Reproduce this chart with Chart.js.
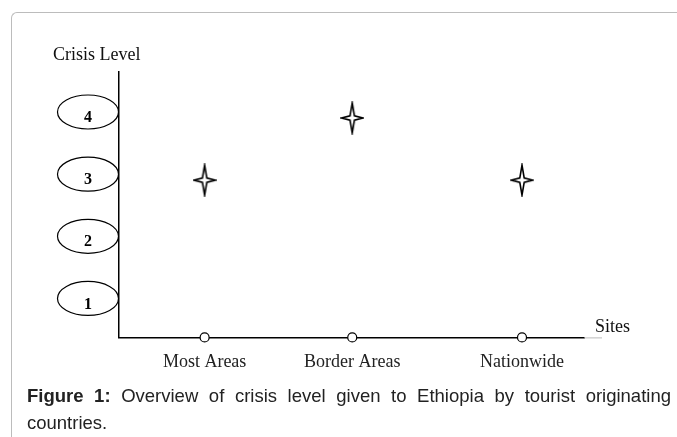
<!DOCTYPE html>
<html lang="en">
<head>
    <meta charset="UTF-8">
    <title>Crisis level overview</title>
    <style>
        body {
            margin: 0;
            padding: 0;
            background: #fff;
            width: 677px;
            height: 437px;
            overflow: hidden;
            position: relative;
        }
        .frame {
            position: absolute;
            left: 11px;
            top: 12px;
            width: 700px;
            height: 460px;
            border-left: 1.5px solid #bcbcbc;
            border-top: 1.5px solid #bcbcbc;
            border-top-left-radius: 6px;
        }
        .chart-box {
            position: absolute;
            left: 0;
            top: 0;
            width: 677px;
            height: 392px;
        }
        .caption {
            position: absolute;
            left: 27px;
            top: 382px;
            width: 644px;
            font-family: 'Liberation Sans', Arial, sans-serif;
            font-size: 18.5px;
            line-height: 27px;
            color: #222;
            text-align: justify;
            text-align-last: left;
        }
    </style>
</head>
<body>

    <div class="frame"></div>
    <div class="chart-box">
        <canvas id="chart1"></canvas>
    </div>
    <div class="caption"><b>Figure 1:</b> Overview of crisis level given to Ethiopia by tourist originating countries.</div>

    <script src="https://cdn.jsdelivr.net/npm/chart.js"></script>
    <script>
        // data
        const sites = ["Most Areas", "Border Areas", "Nationwide"];
        const sitePos = [1, 2, 3.15];
        const crisisLevels = [3, 4, 3];
        const levelTicks = [1, 2, 3, 4];

        const xMin = 0.42, xMax = 3.57;
        const yMin = 0.47, yMax = 4.74;

        // four point star marker
        function makeStar() {
            let c = document.createElement("canvas");
            c.width = 24;
            c.height = 34;
            let g = c.getContext("2d");
            let cx = 12, cy = 17;
            g.beginPath();
            g.moveTo(cx, cy - 15);
            g.lineTo(cx + 2.2, cy - 2.2);
            g.lineTo(cx + 10.5, cy);
            g.lineTo(cx + 2.2, cy + 2.2);
            g.lineTo(cx, cy + 15);
            g.lineTo(cx - 2.2, cy + 2.2);
            g.lineTo(cx - 10.5, cy);
            g.lineTo(cx - 2.2, cy - 2.2);
            g.closePath();
            g.fillStyle = "#fff";
            g.fill();
            g.lineWidth = 1.6;
            g.strokeStyle = "#000";
            g.stroke();
            return c;
        }

        // ellipses round the level numbers, axis titles
        const decorPlugin = {
            id: "decor",
            afterDraw(chart) {
                let ctx = chart.ctx;
                let ys = chart.scales.y;
                let xs = chart.scales.x;
                let left = chart.chartArea.left;
                ctx.save();
                levelTicks.forEach(function (lv) {
                    let y = ys.getPixelForValue(lv);
                    ctx.beginPath();
                    ctx.ellipse(left - 31, y - 6, 30.5, 17, 0, 0, Math.PI * 2);
                    ctx.lineWidth = 1.2;
                    ctx.strokeStyle = "#000";
                    ctx.stroke();
                    ctx.fillStyle = "#000";
                    ctx.font = "bold 16px 'Liberation Serif'";
                    ctx.textAlign = "center";
                    ctx.textBaseline = "middle";
                    ctx.fillText(String(lv), left - 31, y);
                });
                ctx.font = "18px 'Liberation Serif'";
                ctx.textAlign = "left";
                ctx.textBaseline = "middle";
                ctx.fillStyle = "#111";
                ctx.fillText("Crisis Level", left - 66, chart.chartArea.top - 17);
                ctx.fillText("Sites", xs.right + 11, chart.chartArea.bottom - 10);
                ctx.beginPath();
                ctx.moveTo(xs.right, chart.chartArea.bottom + 0.5);
                ctx.lineTo(xs.right + 18, chart.chartArea.bottom + 0.5);
                ctx.strokeStyle = "#bbb";
                ctx.lineWidth = 1;
                ctx.stroke();
                ctx.restore();
            }
        };

        function drawChart() {
            let starData = sitePos.map(function (p, i) { return { x: p, y: crisisLevels[i] }; });
            let siteData = sitePos.map(function (p) { return { x: p, y: yMin }; });

            let ctx1 = document.getElementById("chart1").getContext("2d");
            new Chart(ctx1, {
                type: "scatter",
                data: {
                    datasets: [
                        {
                            label: "Crisis level",
                            data: starData,
                            pointStyle: makeStar(),
                            pointRadius: 12
                        },
                        {
                            label: "Sites",
                            data: siteData,
                            pointStyle: "circle",
                            pointRadius: 4.5,
                            backgroundColor: "#fff",
                            borderColor: "#000",
                            borderWidth: 1.2,
                            clip: false
                        }
                    ]
                },
                options: {
                    responsive: true,
                    maintainAspectRatio: false,
                    animation: false,
                    layout: { padding: { left: 119, top: 72, right: 93, bottom: 5 } },
                    plugins: {
                        legend: { display: false },
                        tooltip: { enabled: false }
                    },
                    scales: {
                        x: {
                            type: "linear",
                            min: xMin,
                            max: xMax,
                            afterBuildTicks: function (axis) {
                                axis.ticks = sitePos.map(function (p) { return { value: p }; });
                            },
                            grid: { display: false, drawTicks: false },
                            border: { display: true, color: "#000", width: 1.5 },
                            ticks: {
                                autoSkip: false,
                                maxRotation: 0,
                                padding: 14,
                                color: "#222",
                                font: { family: "'Liberation Serif'", size: 18 },
                                callback: function (v) {
                                    let i = sitePos.indexOf(v);
                                    return i >= 0 ? sites[i] : "";
                                }
                            }
                        },
                        y: {
                            type: "linear",
                            min: yMin,
                            max: yMax,
                            afterBuildTicks: function (axis) {
                                axis.ticks = levelTicks.map(function (v) { return { value: v }; });
                            },
                            grid: { display: false, drawTicks: false },
                            border: { display: true, color: "#000", width: 1.5 },
                            ticks: { display: false }
                        }
                    }
                },
                plugins: [decorPlugin]
            });
        }

        window.onload = drawChart;
    </script>

</body>
</html>
